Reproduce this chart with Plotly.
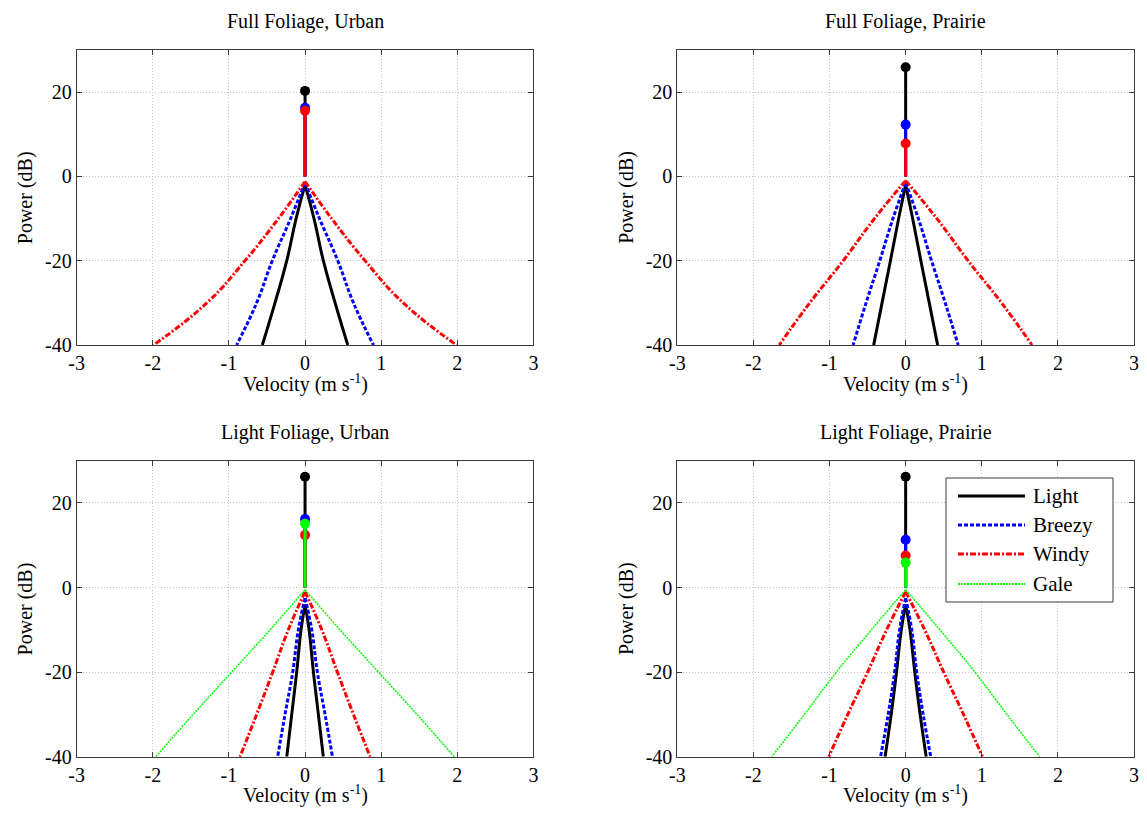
import plotly.graph_objects as go

FONT = "Liberation Serif, serif"
W, H = 1147, 822

# Power levels (dB) at which the spectrum half-widths are tabulated
levels = [-10, -20, -30, -40]

series_order = ["Light", "Breezy", "Windy", "Gale"]
colors = {"Light": "#000000", "Breezy": "#0000ff", "Windy": "#ff0000", "Gale": "#00ff00"}
dashes = {"Light": "solid", "Breezy": "4px,2px", "Windy": "6px,2px,2px,2px", "Gale": "2px,1px"}
widths = {"Light": 3, "Breezy": 3, "Windy": 3, "Gale": 1.5}

panel_titles = ["Full Foliage, Urban", "Full Foliage, Prairie",
                "Light Foliage, Urban", "Light Foliage, Prairie"]

# Full foliage, urban: |velocity| (m/s) reached at each level, peak (dB) at v=0, DC line (dB)
full_urban_speed = {"Light": [0.118, 0.24, 0.395, 0.561],
                    "Breezy": [0.19, 0.43, 0.636, 0.899],
                    "Windy": [0.35, 0.789, 1.29, 1.99]}
full_urban_peak = {"Light": -2.0, "Breezy": -1.5, "Windy": -1.2}
full_urban_dc = {"Light": 20.3, "Breezy": 16.3, "Windy": 15.6}

# Full foliage, prairie
full_prairie_speed = {"Light": [0.092, 0.2, 0.31, 0.42],
                      "Breezy": [0.167, 0.34, 0.52, 0.69],
                      "Windy": [0.41, 0.82, 1.26, 1.66]}
full_prairie_peak = {"Light": -2.0, "Breezy": -1.5, "Windy": -1.0}
full_prairie_dc = {"Light": 25.9, "Breezy": 12.3, "Windy": 7.8}

# Light foliage, urban
light_urban_speed = {"Light": [0.053, 0.11, 0.175, 0.24],
                     "Breezy": [0.088, 0.162, 0.263, 0.36],
                     "Windy": [0.22, 0.425, 0.636, 0.855],
                     "Gale": [0.46, 0.965, 1.47, 1.96]}
light_urban_peak = {"Light": -4.0, "Breezy": -2.5, "Windy": -1.0, "Gale": -0.5}
light_urban_dc = {"Light": 26.2, "Breezy": 16.2, "Windy": 12.4, "Gale": 15.1}

# Light foliage, prairie
light_prairie_speed = {"Light": [0.057, 0.12, 0.19, 0.27],
                       "Breezy": [0.08, 0.145, 0.23, 0.33],
                       "Windy": [0.25, 0.5, 0.76, 1.01],
                       "Gale": [0.45, 0.91, 1.33, 1.76]}
light_prairie_peak = {"Light": -4.0, "Breezy": -2.5, "Windy": -1.0, "Gale": -0.5}
light_prairie_dc = {"Light": 26.2, "Breezy": 11.3, "Windy": 7.6, "Gale": 5.9}

x_ticks = [-3, -2, -1, 0, 1, 2, 3]
x_tick_labels = ["-3", "-2", "-1", "0", "1", "2", "3"]
y_ticks = [-40, -20, 0, 20]
y_tick_labels = ["-40", "-20", "0", "20"]
x_range = [-3, 3]
y_range = [-40, 30]
x_title = "Velocity (m s<sup>-1</sup>)"
y_title = "Power (dB)"

panels = [
    (full_urban_speed, full_urban_peak, full_urban_dc),
    (full_prairie_speed, full_prairie_peak, full_prairie_dc),
    (light_urban_speed, light_urban_peak, light_urban_dc),
    (light_prairie_speed, light_prairie_peak, light_prairie_dc),
]

# Plot-area pixel boxes (left, top, right, bottom)
boxes = [(76.7, 50, 533.4, 345), (677.3, 50, 1134, 345),
         (76.7, 460.7, 533.4, 756.7), (677.3, 460.7, 1134, 756.7)]


def px(x):
    return x / W


def py(y):
    return 1 - y / H


fig = go.Figure()

for i, (speed, peak, dc) in enumerate(panels):
    xa = "x" if i == 0 else f"x{i + 1}"
    ya = "y" if i == 0 else f"y{i + 1}"
    for name in series_order:
        if name not in speed:
            continue
        v = speed[name]
        line = dict(color=colors[name], width=widths[name], dash=dashes[name],
                    shape="spline", smoothing=1.3)
        # each side of the spectrum drawn separately so the peak stays a cusp
        for sgn in (-1, 1):
            fig.add_trace(go.Scatter(
                x=[0] + [sgn * s for s in v], y=[peak[name]] + levels,
                mode="lines", xaxis=xa, yaxis=ya, showlegend=False,
                line=line, hoverinfo="skip"))
        # DC (zero-velocity) component as a stem with a dot on top
        fig.add_trace(go.Scatter(
            x=[0, 0], y=[0, dc[name]], mode="lines", xaxis=xa, yaxis=ya,
            showlegend=False, line=dict(color=colors[name], width=3),
            hoverinfo="skip"))
        fig.add_trace(go.Scatter(
            x=[0], y=[dc[name]], mode="markers", xaxis=xa, yaxis=ya,
            showlegend=False, marker=dict(color=colors[name], size=10),
            hoverinfo="skip"))

layout = dict(
    width=W, height=H, margin=dict(l=0, r=0, t=0, b=0, autoexpand=False),
    paper_bgcolor="white", plot_bgcolor="white",
    font=dict(family=FONT, color="#000000", size=20),
    showlegend=False,
)

axis_common = dict(showline=True, linecolor="#3a3a3a", linewidth=1, mirror="ticks",
                   ticks="inside", ticklen=5, tickcolor="#3a3a3a", automargin=False,
                   showgrid=True, gridcolor="#c4c4c4", griddash="1px,2px", gridwidth=1,
                   zeroline=False, tickfont=dict(family=FONT, size=20, color="#000"))

annotations = []
for i, (l, t, r, b) in enumerate(boxes):
    xk = "xaxis" if i == 0 else f"xaxis{i + 1}"
    yk = "yaxis" if i == 0 else f"yaxis{i + 1}"
    ya = "y" if i == 0 else f"y{i + 1}"
    xa = "x" if i == 0 else f"x{i + 1}"
    layout[xk] = dict(axis_common, domain=[px(l), px(r)], range=x_range,
                      tickvals=x_ticks, ticktext=x_tick_labels, anchor=ya)
    layout[yk] = dict(axis_common, domain=[py(b), py(t)], range=y_range,
                      tickvals=y_ticks, ticktext=y_tick_labels, anchor=xa)
    annotations.append(dict(text=panel_titles[i], xref="paper", yref="paper",
                            x=px((l + r) / 2), y=py(t - 28), xanchor="center",
                            yanchor="middle", showarrow=False,
                            font=dict(family=FONT, size=20)))
    annotations.append(dict(text=x_title, xref="paper", yref="paper",
                            x=px((l + r) / 2), y=py(b + 38), xanchor="center",
                            yanchor="middle", showarrow=False,
                            font=dict(family=FONT, size=20)))
    annotations.append(dict(text=y_title, xref="paper", yref="paper",
                            x=px(l - 51), y=py((t + b) / 2), xanchor="center",
                            yanchor="middle", textangle=-90, showarrow=False,
                            font=dict(family=FONT, size=20)))

# Legend box inside the last panel
shapes = [dict(type="rect", xref="paper", yref="paper",
               x0=px(946), x1=px(1113), y0=py(602), y1=py(478),
               line=dict(color="#3a3a3a", width=1), fillcolor="white", layer="above")]
legend_rows = [496, 525, 554, 584]
for name, yrow in zip(series_order, legend_rows):
    shapes.append(dict(type="line", xref="paper", yref="paper",
                       x0=px(958), x1=px(1025), y0=py(yrow), y1=py(yrow),
                       line=dict(color=colors[name], width=widths[name] if name != "Gale" else 2,
                                 dash=dashes[name]), layer="above"))
    annotations.append(dict(text=name, xref="paper", yref="paper",
                            x=px(1031), y=py(yrow), xanchor="left", yanchor="middle",
                            showarrow=False, font=dict(family=FONT, size=21)))

layout["shapes"] = shapes
layout["annotations"] = annotations
fig.update_layout(**layout)

fig.write_html("out.html")
